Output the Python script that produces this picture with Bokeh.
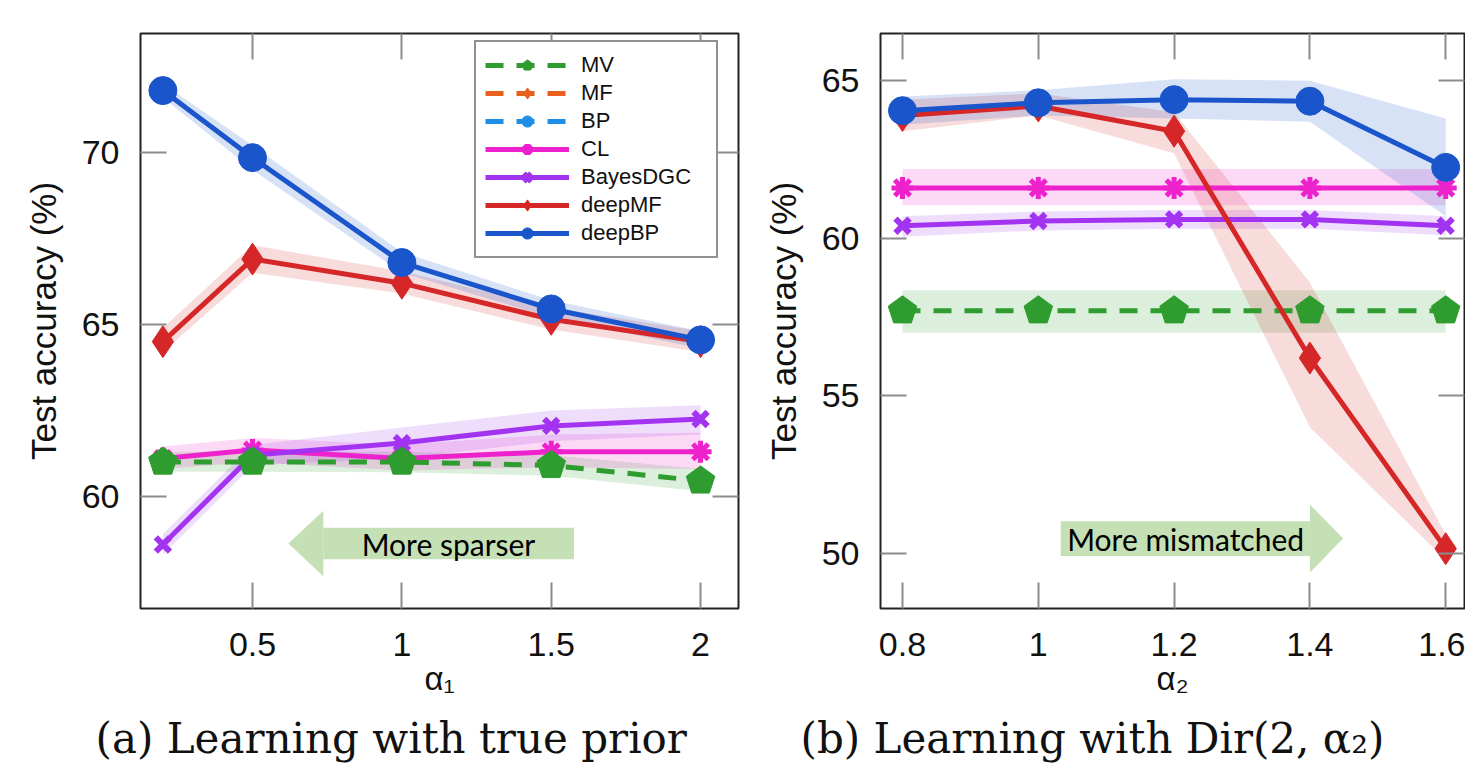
import math
from bokeh.plotting import figure
from bokeh.layouts import row
from bokeh.models import (Legend, LegendItem, LinearAxis, FixedTicker, BoxAnnotation,
                          PolyAnnotation, Label, Title, Range1d)
from bokeh.embed import file_html
from bokeh.resources import INLINE

# ---------------- data ----------------
alpha1 = [0.2, 0.5, 1.0, 1.5, 2.0]
a_mv      = [61.0, 61.0, 61.0, 60.9, 60.45]
a_mv_lo   = [60.72, 60.72, 60.7, 60.6, 60.15]
a_mv_hi   = [61.3, 61.3, 61.3, 61.2, 60.8]
a_cl      = [61.1, 61.35, 61.1, 61.3, 61.3]
a_cl_lo   = [60.8, 61.0, 60.75, 60.85, 60.8]
a_cl_hi   = [61.45, 61.7, 61.5, 61.8, 61.85]
a_bdgc    = [58.6, 61.2, 61.55, 62.05, 62.25]
a_bdgc_lo = [58.3, 60.9, 61.1, 61.6, 61.8]
a_bdgc_hi = [58.9, 61.5, 62.0, 62.5, 62.65]
a_dmf     = [64.5, 66.9, 66.2, 65.15, 64.5]
a_dmf_lo  = [64.2, 66.5, 65.9, 64.85, 64.2]
a_dmf_hi  = [64.9, 67.3, 66.55, 65.5, 64.8]
a_dbp     = [71.8, 69.85, 66.8, 65.45, 64.55]
a_dbp_lo  = [71.6, 69.5, 66.5, 65.2, 64.3]
a_dbp_hi  = [72.0, 70.2, 67.1, 65.7, 64.8]

alpha2 = [0.8, 1.0, 1.2, 1.4, 1.6]
b_mv      = [57.7, 57.7, 57.7, 57.7, 57.7]
b_mv_lo   = [57.0, 57.0, 57.0, 57.0, 57.0]
b_mv_hi   = [58.35, 58.35, 58.35, 58.35, 58.35]
b_cl      = [61.6, 61.6, 61.6, 61.6, 61.6]
b_cl_lo   = [61.05, 61.05, 61.05, 61.05, 61.05]
b_cl_hi   = [62.2, 62.2, 62.2, 62.2, 62.2]
b_bdgc    = [60.4, 60.55, 60.6, 60.6, 60.4]
b_bdgc_lo = [60.05, 60.25, 60.3, 60.3, 60.1]
b_bdgc_hi = [60.7, 60.85, 60.9, 60.9, 60.7]
b_dmf     = [63.9, 64.2, 63.4, 56.2, 50.15]
b_dmf_lo  = [63.4, 63.9, 62.7, 54.0, 49.8]
b_dmf_hi  = [64.4, 64.6, 64.0, 58.6, 50.6]
b_dbp     = [64.05, 64.3, 64.4, 64.35, 62.25]
b_dbp_lo  = [63.6, 63.9, 63.8, 63.7, 60.7]
b_dbp_hi  = [64.5, 64.7, 65.05, 65.0, 63.8]

# MF and BP appear only in the legend: no values are shown in these panels
mf_none = [float("nan")]
bp_none = [float("nan")]

x1_ticks = [0.5, 1.0, 1.5, 2.0]
x1_labels = ["0.5", "1", "1.5", "2"]
y1_ticks = [60, 65, 70]
x2_ticks = [0.8, 1.0, 1.2, 1.4, 1.6]
x2_labels = ["0.8", "1", "1.2", "1.4", "1.6"]
y2_ticks = [50, 55, 60, 65]

legend_labels = ["MV", "MF", "BP", "CL", "BayesDGC", "deepMF", "deepBP"]

C_MV, C_MF, C_BP = "#2e9c2e", "#e8601c", "#1e8ee6"
C_CL, C_BDGC, C_DMF, C_DBP = "#ee22cc", "#a233f0", "#d62728", "#1a55cc"
ARROW = "#c5e0b4"

SANS = "Liberation Sans"
SERIF = "DejaVu Serif"


def make_fig(xr, yr, xt, xl, yt, fw, left, right, xlabel, caption, cap_offset):
    p = figure(x_range=Range1d(*xr), y_range=Range1d(*yr), frame_width=fw, frame_height=575,
               min_border_left=left, min_border_right=right, min_border_top=33,
               min_border_bottom=150, output_backend="svg", toolbar_location=None)
    p.grid.visible = False
    p.outline_line_color = "#222222"
    p.outline_line_width = 2
    p.background_fill_color = "white"
    p.border_fill_color = "white"
    xa, ya = p.xaxis[0], p.yaxis[0]
    xa.ticker = FixedTicker(ticks=xt)
    xa.major_label_overrides = {t: s for t, s in zip(xt, xl)}
    ya.ticker = FixedTicker(ticks=yt)
    for ax in (xa, ya):
        ax.axis_line_color = None
        ax.major_tick_in = 26
        ax.major_tick_out = 0
        ax.major_tick_line_color = "#8c8c8c"
        ax.major_tick_line_width = 2
        ax.minor_tick_line_color = None
        ax.major_label_text_font = SANS
        ax.major_label_text_font_size = "34px"
        ax.major_label_text_color = "#111111"
        ax.axis_label_text_font = SANS
        ax.axis_label_text_font_style = "normal"
        ax.axis_label_text_color = "#111111"
    xa.major_label_standoff = 24
    xa.axis_label = xlabel
    xa.axis_label_text_font_size = "33px"
    xa.axis_label_standoff = 1
    ya.major_label_standoff = 21
    ya.axis_label = "Test accuracy (%)"
    ya.axis_label_text_font_size = "35px"
    ya.axis_label_standoff = 16
    for loc, t in (("above", xt), ("right", yt)):
        ax = LinearAxis(ticker=FixedTicker(ticks=t))
        ax.axis_line_color = None
        ax.major_tick_in = 26
        ax.major_tick_out = 0
        ax.major_tick_line_color = "#8c8c8c"
        ax.major_tick_line_width = 2
        ax.minor_tick_line_color = None
        ax.major_label_overrides = {v: "" for v in t}
        ax.major_label_text_font_size = "2px"
        ax.major_label_standoff = 0
        p.add_layout(ax, loc)
    p.add_layout(Title(text=caption, align="left", text_font=SERIF, text_font_size="42px",
                       text_font_style="normal", text_color="#111111", offset=cap_offset,
                       standoff=24), "below")
    return p


def draw(p, x, mv, mvl, mvh, cl, cll, clh, bd, bdl, bdh, dm, dml, dmh, db, dbl, dbh):
    for lo, hi, c in ((mvl, mvh, C_MV), (cll, clh, C_CL), (bdl, bdh, C_BDGC),
                      (dml, dmh, C_DMF), (dbl, dbh, C_DBP)):
        p.varea(x=x, y1=lo, y2=hi, fill_color=c, fill_alpha=0.17)
    r = {}
    r["CL"] = [p.line(x, cl, line_color=C_CL, line_width=5),
               p.scatter(x, cl, marker="asterisk", size=22, line_color=C_CL, line_width=5)]
    r["BayesDGC"] = [p.line(x, bd, line_color=C_BDGC, line_width=5),
                     p.scatter(x, bd, marker="x", size=20, line_color=C_BDGC, line_width=6)]
    r["MV"] = [p.line(x, mv, line_color=C_MV, line_width=5, line_dash="18 13"),
               p.ngon(x, mv, radius=15, radius_units="screen", n=5, angle=0,
                      fill_color=C_MV, line_color=C_MV)]
    r["deepMF"] = [p.line(x, dm, line_color=C_DMF, line_width=5),
                   p.scatter(x, dm, marker="diamond", size=32, fill_color=C_DMF, line_color=C_DMF)]
    r["deepBP"] = [p.line(x, db, line_color=C_DBP, line_width=5),
                   p.scatter(x, db, marker="circle", size=28, fill_color=C_DBP, line_color=C_DBP)]
    return r


p1 = make_fig((0.125, 2.127), (56.74, 73.46), x1_ticks, x1_labels, y1_ticks, 598, 140, 22,
              "α₁", "(a) Learning with true prior", -45)
p2 = make_fig((0.7676, 1.6277), (48.25, 66.5), x2_ticks, x2_labels, y2_ticks, 584, 120, 1,
              "α₂", "(b) Learning with Dir(2, α₂)", -80)

r1 = draw(p1, alpha1, a_mv, a_mv_lo, a_mv_hi, a_cl, a_cl_lo, a_cl_hi, a_bdgc, a_bdgc_lo,
          a_bdgc_hi, a_dmf, a_dmf_lo, a_dmf_hi, a_dbp, a_dbp_lo, a_dbp_hi)
draw(p2, alpha2, b_mv, b_mv_lo, b_mv_hi, b_cl, b_cl_lo, b_cl_hi, b_bdgc, b_bdgc_lo,
     b_bdgc_hi, b_dmf, b_dmf_lo, b_dmf_hi, b_dbp, b_dbp_lo, b_dbp_hi)

r1["MF"] = [p1.line(mf_none, mf_none, line_color=C_MF, line_width=5, line_dash="18 13"),
            p1.scatter(mf_none, mf_none, marker="diamond", size=30, fill_color=C_MF,
                       line_color=C_MF)]
r1["BP"] = [p1.line(bp_none, bp_none, line_color=C_BP, line_width=5, line_dash="18 13"),
            p1.scatter(bp_none, bp_none, marker="circle", size=28, fill_color=C_BP,
                       line_color=C_BP)]

legend = Legend(items=[LegendItem(label=lab, renderers=r1[lab]) for lab in legend_labels],
                location=(334, 350), glyph_width=84, glyph_height=28, label_height=28,
                spacing=0, padding=9, label_standoff=12, label_width=126,
                label_text_font=SANS, label_text_font_size="22px", label_text_color="#111111",
                border_line_color="#222222", border_line_width=2, background_fill_alpha=1,
                margin=0)
p1.add_layout(legend)

# arrows
p1.add_layout(BoxAnnotation(left=0.737, right=1.576, bottom=58.17, top=59.09,
                            fill_color=ARROW, fill_alpha=1, line_color=None))
p1.add_layout(PolyAnnotation(xs=[0.62, 0.737, 0.737], ys=[58.63, 59.58, 57.68],
                             fill_color=ARROW, fill_alpha=1, line_color=None))
p1.add_layout(Label(x=1.156, y=58.63, text="More sparser", text_align="center",
                    text_baseline="middle", text_font="Lato", text_font_size="30px",
                    text_color="black"))

p2.add_layout(BoxAnnotation(left=1.033, right=1.4, bottom=49.92, top=51.02,
                            fill_color=ARROW, fill_alpha=1, line_color=None))
p2.add_layout(PolyAnnotation(xs=[1.4, 1.449, 1.4], ys=[51.55, 50.47, 49.39],
                             fill_color=ARROW, fill_alpha=1, line_color=None))
p2.add_layout(Label(x=1.217, y=50.47, text="More mismatched", text_align="center",
                    text_baseline="middle", text_font="Lato", text_font_size="30px",
                    text_color="black"))

layout = row(p1, p2, spacing=0)
open("out.html", "w").write(file_html(layout, INLINE))
